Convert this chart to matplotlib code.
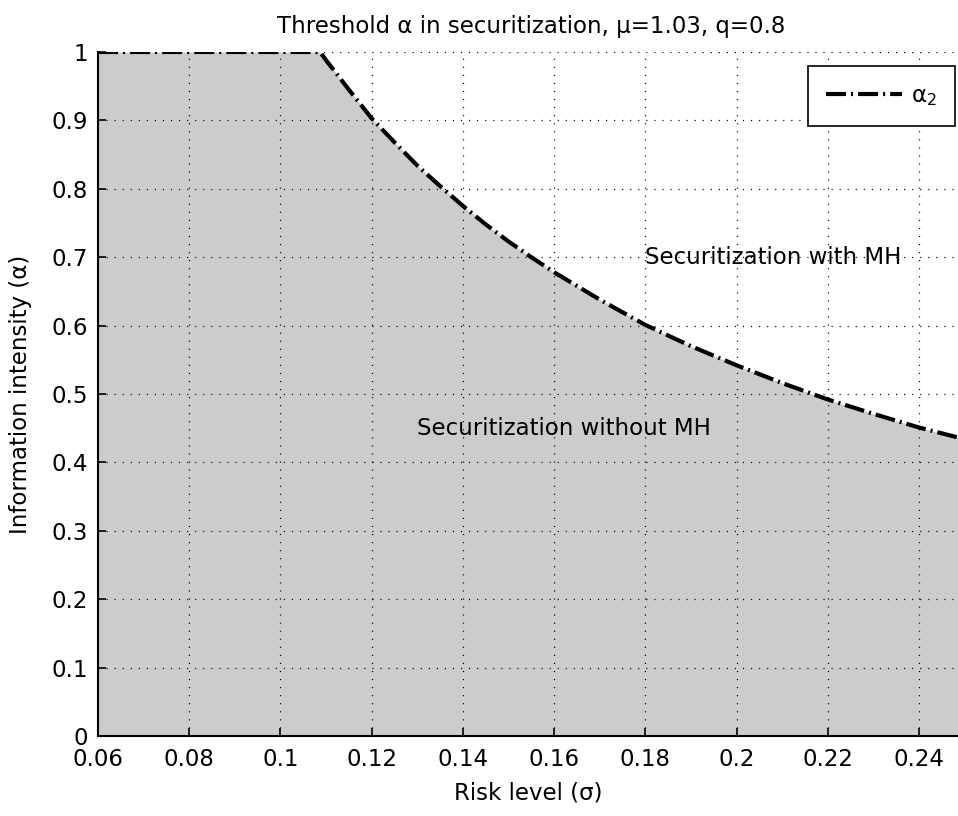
import numpy as np
import matplotlib
matplotlib.use("Agg")
import matplotlib.pyplot as plt
from matplotlib.ticker import FormatStrFormatter

# Seuil alpha_2 en fonction du niveau de risque sigma
sigma = [0.06, 0.1087, 0.11, 0.115, 0.12, 0.125, 0.13, 0.135, 0.14, 0.145, 0.15,
         0.155, 0.16, 0.17, 0.18, 0.19, 0.20, 0.21, 0.22, 0.23, 0.24, 0.25]
alpha2 = [1.0, 1.0, 0.988, 0.945, 0.903, 0.868, 0.834, 0.804, 0.775, 0.748, 0.723,
          0.700, 0.678, 0.638, 0.601, 0.570, 0.542, 0.516, 0.492, 0.471, 0.451, 0.434]

x_ticks = [0.06, 0.08, 0.10, 0.12, 0.14, 0.16, 0.18, 0.20, 0.22, 0.24]
y_ticks = [0, 0.1, 0.2, 0.3, 0.4, 0.5, 0.6, 0.7, 0.8, 0.9, 1.0]

plt.rcParams['font.family'] = ['DejaVu Sans']
plt.rcParams['lines.scale_dashes'] = False
FS = 16.5

fig = plt.figure(figsize=(9.58, 8.16), dpi=100)
# l'axe déborde un peu à droite de la figure
ax = fig.add_axes([98 / 958, 80 / 816, 866.6 / 958, 684 / 816])

ax.fill_between(sigma, alpha2, 0, color='#cccccc', lw=0, zorder=1)
ax.plot(sigma, alpha2, color='black', lw=3, dashes=(14.4, 3.6, 1.5, 3.6),
        label='\u03b1$_2$', zorder=4, solid_capstyle='butt')

ax.set_xlim(0.06, 0.25)
ax.set_ylim(0, 1)
ax.set_xticks(x_ticks)
ax.set_yticks(y_ticks)
ax.xaxis.set_major_formatter(FormatStrFormatter('%g'))
ax.yaxis.set_major_formatter(FormatStrFormatter('%g'))

ax.grid(True, color='black', linestyle=(0, (0.8, 5)), linewidth=0.9, zorder=2)
ax.set_axisbelow(False)

for side in ['top', 'right']:
    ax.spines[side].set_visible(False)
for side in ['left', 'bottom']:
    ax.spines[side].set_linewidth(1.5)
    ax.spines[side].set_zorder(5)

ax.tick_params(direction='in', length=6, width=1.2, labelsize=FS,
               top=False, right=False)
ax.tick_params(axis='x', pad=9)
ax.tick_params(axis='y', pad=7)

ax.set_title('Threshold \u03b1 in securitization, \u03bc=1.03, q=0.8', fontsize=FS, pad=14)
ax.set_xlabel('Risk level (\u03c3)', fontsize=FS)
ax.set_ylabel('Information intensity (\u03b1)', fontsize=FS)
ax.xaxis.set_label_coords(0.497, -0.066)
ax.yaxis.set_label_coords(-0.076, 0.5)

ax.text(0.18, 0.70, 'Securitization with MH', fontsize=FS, va='center', ha='left', zorder=6)
ax.text(0.13, 0.45, 'Securitization without MH', fontsize=FS, va='center', ha='left', zorder=6)

leg = ax.legend(loc='upper right', bbox_to_anchor=(0.989, 0.98), borderaxespad=0,
                fontsize=FS, fancybox=False, framealpha=1, edgecolor='black',
                borderpad=0.8, handlelength=3.3, handletextpad=0.4)
leg.get_frame().set_linewidth(1.2)
leg.set_zorder(7)

fig.savefig('out.png', dpi=100)
